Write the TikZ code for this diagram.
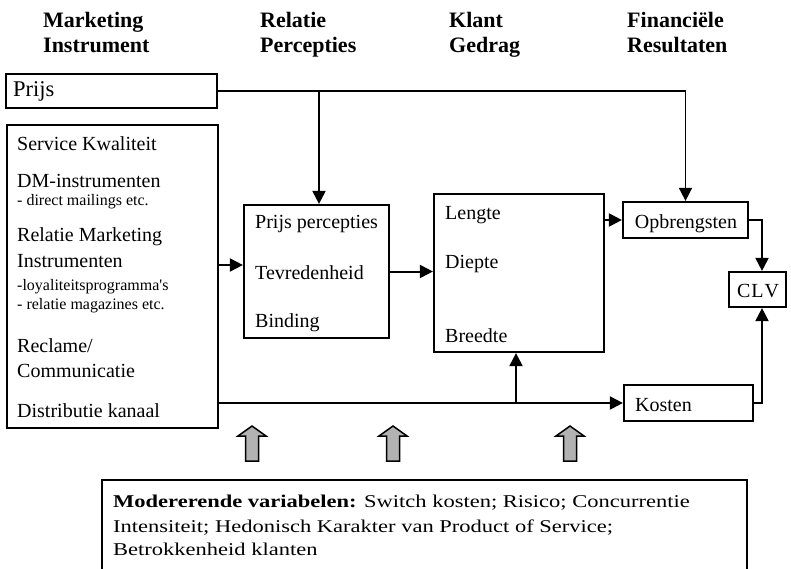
\documentclass[tikz,border=0pt]{standalone}
\usepackage{fontspec}
\setmainfont{Liberation Serif}
\newfontfamily\stretchfont[FakeStretch=1.25]{Liberation Serif}
\usetikzlibrary{arrows.meta}
\tikzset{
  box/.style={draw, line width=2.2pt, inner sep=0pt, rectangle},
  conn/.style={line width=2pt},
  arr/.style={conn, -{Triangle[length=13pt,width=13pt]}},
  hdr/.style={anchor=base west, inner sep=0pt, font=\fontsize{22}{25}\selectfont\bfseries},
  txt/.style={anchor=base west, inner sep=0pt, font=\fontsize{20}{24}\selectfont},
  small/.style={anchor=base west, inner sep=0pt, font=\fontsize{16}{19}\selectfont},
  modtxt/.style={anchor=base west, inner sep=0pt, font=\stretchfont\fontsize{18}{22}\selectfont},
  pics/modarrow/.style={code={
    \draw[line width=1.5pt, fill=black!30, line join=miter]
      (-6.5,0) -- (-6.5,-25) -- (-14,-25) -- (0,-35) -- (14,-25) -- (6.5,-25) -- (6.5,0) -- cycle;
  }}
}
\begin{document}
\begin{tikzpicture}[x=1pt, y=-1pt]
\clip (0,0) rectangle (791,569);
\fill[white] (0,0) rectangle (791,569);

% headers
\node[hdr] (h1a) at (43,28) {Marketing};
\node[hdr] (h1b) at (43,53) {Instrument};
\node[hdr] (h2a) at (260,28) {Relatie};
\node[hdr] (h2b) at (260,53) {Percepties};
\node[hdr] (h3a) at (449,28) {Klant};
\node[hdr] (h3b) at (449,53) {Gedrag};
\node[hdr] (h4a) at (627,28) {Financiële};
\node[hdr] (h4b) at (627,53) {Resultaten};

% boxes
\node[box, minimum width=211pt, minimum height=34pt] (prijs) at (111.5,91) {};
\node[box, minimum width=211pt, minimum height=303pt] (mi) at (112.5,276.5) {};
\node[box, minimum width=145pt, minimum height=133pt] (rp) at (316.5,271.5) {};
\node[box, minimum width=170pt, minimum height=158pt] (kg) at (519,273) {};
\node[box, minimum width=125pt, minimum height=36pt] (opb) at (685.5,220) {};
\node[box, minimum width=57pt, minimum height=35pt] (clv) at (757.5,289.5) {};
\node[box, minimum width=129pt, minimum height=36pt] (kos) at (688.5,403) {};
\node[box, minimum width=645pt, minimum height=100pt] (mod) at (424.5,530) {};

% texts
\node[anchor=base west, inner sep=0pt, font=\fontsize{22.5}{26}\selectfont] (tprijs) at (13,97) {Prijs};

\node[txt] (t1) at (17,150.7) {Service Kwaliteit};
\node[txt] (t2) at (17,188) {DM-instrumenten};
\node[small] (t3) at (17,205) {- direct mailings etc.};
\node[txt] (t4) at (17,241) {Relatie Marketing};
\node[txt] (t5) at (17,267) {Instrumenten};
\node[small] (t6) at (17,290) {-loyaliteitsprogramma\textquotesingle s};
\node[small] (t7) at (17,309) {- relatie magazines etc.};
\node[txt] (t8) at (17,352) {Reclame/};
\node[txt] (t9) at (17,377) {Communicatie};
\node[txt] (t10) at (17,417) {Distributie kanaal};

\node[txt] (r1) at (255,229) {Prijs percepties};
\node[txt] (r2) at (255,279) {Tevredenheid};
\node[txt] (r3) at (255,327) {Binding};

\node[txt] (k1) at (445,219) {Lengte};
\node[txt] (k2) at (445,268) {Diepte};
\node[txt] (k3) at (445,342) {Breedte};

\node[txt, anchor=base] (topb) at (686,228) {Opbrengsten};
\node[txt, anchor=base] (tclv) at (758,297) {C\kern1pt L\kern1pt V};
\node[txt] (tkos) at (635,411) {Kosten};

\node[modtxt] (m1) at (113,507) {\textbf{Modererende variabelen:} Switch kosten; Risico; Concurrentie};
\node[modtxt] (m2) at (113,532) {Intensiteit; Hedonisch Karakter van Product of Service;};
\node[modtxt] (m3) at (113,555) {Betrokkenheid klanten};

% connectors
\coordinate (j1) at (319,91);
\coordinate (c1) at (762,0);
\coordinate (y1) at (0,265);
\coordinate (j2) at (516,403);

\draw[arr, line width=1.6pt] (prijs.east) -| (opb.north);
\draw[arr] (j1) -- (j1 |- rp.north);
\draw[arr] (mi.east |- y1) -- (rp.west |- y1);
\draw[arr] (rp.east) -- (kg.west |- rp.east);
\draw[arr] (kg.east |- opb.west) -- (opb.west);
\draw[arr] (opb.east) -| (c1 |- clv.north);
\draw[arr] (kos.east) -| (c1 |- clv.south);
\draw[arr] (mi.east |- kos.west) -- (kos.west);
\draw[arr] (j2) -- (j2 |- kg.south);

% moderating arrows
\pic at (252,461) {modarrow};
\pic at (393,461) {modarrow};
\pic at (570,461) {modarrow};
\end{tikzpicture}
\end{document}
